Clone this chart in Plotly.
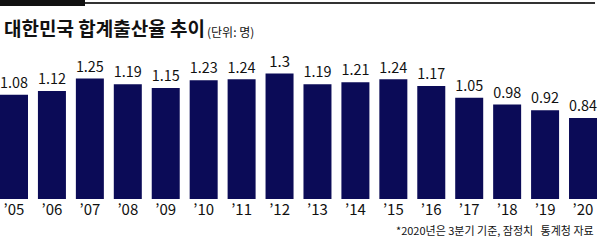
import plotly.graph_objects as go

years = ["’05", "’06", "’07", "’08", "’09", "’10", "’11", "’12",
         "’13", "’14", "’15", "’16", "’17", "’18", "’19", "’20"]
values = [1.08, 1.12, 1.25, 1.19, 1.15, 1.23, 1.24, 1.3,
          1.19, 1.21, 1.24, 1.17, 1.05, 0.98, 0.92, 0.84]
labels = ["1.08", "1.12", "1.25", "1.19", "1.15", "1.23", "1.24", "1.3",
          "1.19", "1.21", "1.24", "1.17", "1.05", "0.98", "0.92", "0.84"]

title = "대한민국 합계출산율 추이"
unit = "(단위: 명)"
note = "*2020년은 3분기 기준, 잠정치   통계청 자료"

FONT = "Noto Sans CJK KR"
W, H = 598, 241
top, bottom = 45, 42
ph = H - top - bottom


def py(p):
    return (H - bottom - p) / ph


xs = list(range(len(values)))

fig = go.Figure(go.Bar(
    x=xs, y=values, text=labels, textposition="outside",
    textfont=dict(family=FONT, size=15, color="#111111"),
    marker=dict(color="#0b0b57", line=dict(width=0)),
    cliponaxis=False, hoverinfo="skip",
))

fig.update_layout(
    width=W, height=H, margin=dict(l=0, r=0, t=top, b=bottom),
    paper_bgcolor="white", plot_bgcolor="white",
    bargap=0.262, showlegend=False,
    xaxis=dict(range=[-0.369, 15.395], tickvals=xs, ticktext=years,
               showgrid=False, zeroline=False, showline=False, ticks="",
               tickfont=dict(family=FONT, size=15, color="#111111"),
               fixedrange=True),
    yaxis=dict(range=[0, ph / 96.5], visible=False, fixedrange=True),
    shapes=[
        dict(type="line", xref="paper", yref="paper", x0=0, x1=0.995,
             y0=py(3), y1=py(3), line=dict(color="#333333", width=2)),
        dict(type="rect", xref="paper", yref="paper", x0=0, x1=85 / W,
             y0=py(6), y1=py(0), fillcolor="#111111", line=dict(width=0)),
    ],
    annotations=[
        dict(text=title, xref="paper", yref="paper", x=0.003, y=py(28),
             xanchor="left", yanchor="middle", showarrow=False,
             font=dict(family=FONT, size=19, color="#111111", weight=700)),
        dict(text=unit, xref="paper", yref="paper", x=205 / W, y=py(31),
             xanchor="left", yanchor="middle", showarrow=False,
             font=dict(family=FONT, size=12, color="#111111")),
        dict(text=note, xref="paper", yref="paper", x=0.997, y=py(230),
             xanchor="right", yanchor="middle", showarrow=False,
             font=dict(family=FONT, size=11, color="#111111")),
    ],
)

fig.write_html("out.html")
